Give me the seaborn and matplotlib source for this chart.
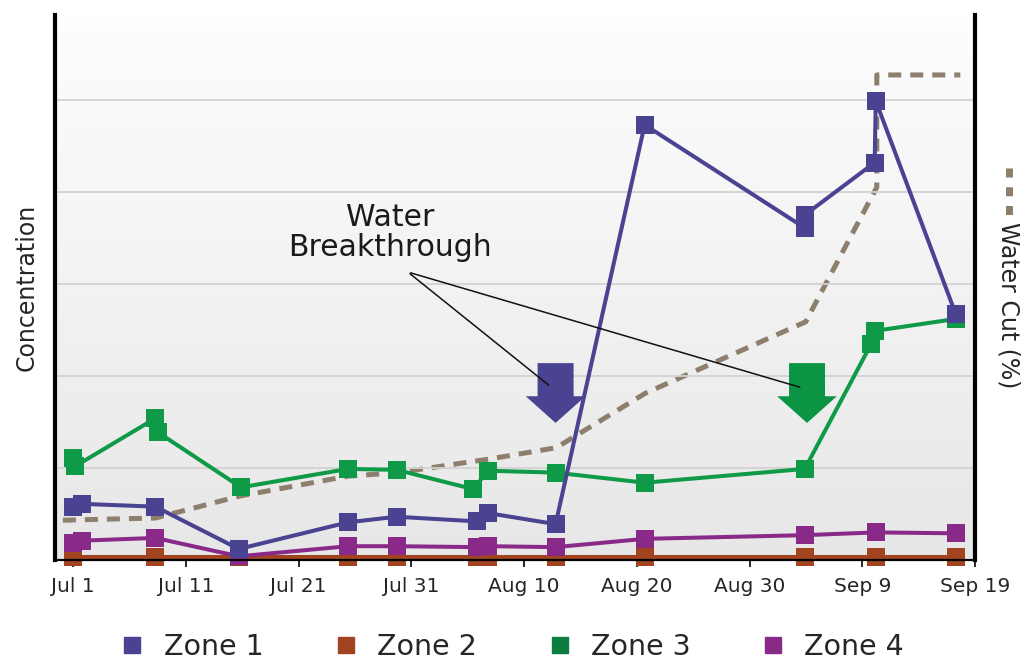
import numpy as np
import pandas as pd
import matplotlib
matplotlib.use("Agg")
import matplotlib.pyplot as plt
import seaborn as sns
from matplotlib.lines import Line2D
from matplotlib.patches import FancyArrow

# ---------------- data ----------------
tick_days = [0, 10, 20, 30, 40, 50, 60, 70, 80]
tick_labels = ["Jul 1", "Jul 11", "Jul 21", "Jul 31", "Aug 10", "Aug 20", "Aug 30", "Sep 9", "Sep 19"]

# days after Jul 1
zone1_day = [0, 0.8, 7.3, 14.7, 24.4, 28.7, 35.8, 36.8, 42.8, 50.7, 64.9, 64.9, 71.1, 71.2, 78.3]
zone1_val = [0.58, 0.61, 0.58, 0.12, 0.41, 0.47, 0.42, 0.51, 0.39, 4.73, 3.61, 3.75, 4.32, 4.99, 2.67]

zone2_day = [0, 7.3, 14.7, 24.4, 28.7, 35.8, 36.8, 42.8, 50.7, 64.9, 71.2, 78.3]
zone2_val = [0.03, 0.03, 0.03, 0.03, 0.03, 0.03, 0.03, 0.03, 0.03, 0.03, 0.03, 0.03]

zone3_day = [0, 0.2, 7.3, 7.5, 14.9, 24.4, 28.7, 35.5, 36.8, 42.8, 50.7, 64.9, 70.8, 71.1, 78.3]
zone3_val = [1.11, 1.02, 1.54, 1.39, 0.79, 0.99, 0.98, 0.77, 0.97, 0.95, 0.84, 0.99, 2.35, 2.49, 2.62]

zone4_day = [0, 0.8, 7.3, 14.7, 24.4, 28.7, 35.8, 36.8, 42.8, 50.7, 64.9, 71.2, 78.3]
zone4_val = [0.18, 0.21, 0.24, 0.04, 0.15, 0.15, 0.14, 0.15, 0.14, 0.23, 0.27, 0.30, 0.29]

water_day = [-0.9, 7.3, 14.7, 24.4, 28.7, 35.8, 36.8, 42.8, 50.7, 64.9, 71.2, 71.2, 78.6]
water_cut = [7.3, 7.7, 11.7, 15.4, 16.0, 18.2, 18.5, 20.6, 30.6, 43.7, 68.4, 89.0, 89.0]

zone_names = ["Zone 1", "Zone 2", "Zone 3", "Zone 4"]
zone_colors = ["#4A4392", "#A1441F", "#0F9A48", "#8A2A88"]
legend_colors = ["#4A4392", "#A1441F", "#0B7D3E", "#8A2A88"]
water_color = "#8E7F6D"

# ---------------- figure ----------------
sns.set_style("white")
plt.rcParams["font.family"] = ["DejaVu Sans"]

fig = plt.figure(figsize=(10.25, 6.6), dpi=100)
pos = [55 / 1025, 100 / 660, 920 / 1025, 545 / 660]

# gradient background
bg = fig.add_axes(pos, zorder=0)
grad = np.linspace(0, 1, 256).reshape(-1, 1)
top_c = np.array([0.995, 0.995, 0.995])
bot_c = np.array([0.905, 0.905, 0.905])
img = top_c[None, None, :] * (1 - grad[..., None]) + bot_c[None, None, :] * grad[..., None]
bg.imshow(img, aspect="auto", extent=[0, 1, 0, 1])
bg.set_axis_off()

ax2 = fig.add_axes(pos, zorder=1)
ax = fig.add_axes(pos, zorder=2)
for a in (ax, ax2):
    a.patch.set_visible(False)

# water cut on secondary scale
wdf = pd.DataFrame({"day": water_day, "cut": water_cut})
sns.lineplot(data=wdf, x="day", y="cut", ax=ax2, color=water_color, lw=3.6,
             sort=False, estimator=None)
ax2.lines[0].set_dashes((2.6, 1.8))
ax2.set_xlim(-1.6, 79.9)
ax2.set_ylim(0, 100)
ax2.set_axis_off()

# zones
series = [(zone2_day, zone2_val, 1), (zone4_day, zone4_val, 3),
          (zone3_day, zone3_val, 2), (zone1_day, zone1_val, 0)]
for d, v, i in series:
    df = pd.DataFrame({"day": d, "val": v})
    sns.lineplot(data=df, x="day", y="val", ax=ax, color=zone_colors[i], lw=2.9,
                 marker="s", markersize=12.5, markeredgewidth=0,
                 sort=False, estimator=None, clip_on=False)

ax.set_xlim(-1.6, 79.9)
ax.set_ylim(0, 545 / 92)
ax.set_yticks([1, 2, 3, 4, 5])
ax.yaxis.grid(True, color="#d2d2d2", lw=1.3)
ax.set_axisbelow(True)
ax.tick_params(axis="y", left=False, labelleft=False)
ax.set_xticks(tick_days)
ax.set_xticklabels(tick_labels)
ax.tick_params(axis="x", direction="out", length=5, width=1.2, color="black",
               labelsize=14.5, pad=7, bottom=True)
ax.set_xlabel("")
ax.set_ylabel("Concentration", fontsize=17, labelpad=12)
for s in ("left", "right"):
    ax.spines[s].set_visible(True)
    ax.spines[s].set_color("black")
    ax.spines[s].set_linewidth(3)
ax.spines["bottom"].set_color("black")
ax.spines["bottom"].set_linewidth(1.6)
ax.spines["top"].set_visible(False)

# breakthrough arrows
arrow_specs = [(42.8, zone_colors[0]), (65.1, "#0B9444")]
for cx, col in arrow_specs:
    ax.add_patch(FancyArrow(cx, 2.14, 0, -0.65, width=3.19, head_width=5.3,
                            head_length=0.29, length_includes_head=True,
                            color=col, lw=0, zorder=2.5))

ax.text(28.1, 3.56, "Water\nBreakthrough", ha="center", va="center",
        fontsize=21.5, color="#1a1a1a", linespacing=1.05)
for ex, ey in [(42.4, 1.88), (64.7, 1.87)]:
    ax.annotate("", xy=(ex, ey), xytext=(29.7, 3.13),
                arrowprops=dict(arrowstyle="-", color="#111111", lw=1.1))

# right label with dashed sample
fig.text(0.984, 1 - 305 / 660, "Water Cut (%)", rotation=-90, ha="center",
         va="center", fontsize=17)
fig.add_artist(Line2D([0.984, 0.984], [1 - 168 / 660, 1 - 216 / 660],
                      transform=fig.transFigure, color=water_color, lw=5,
                      dashes=(1.3, 1.4)))

# legend
handles = [Line2D([0], [0], marker="s", ls="none", color=c, markersize=11)
           for c in legend_colors]
fig.legend(handles, zone_names, loc="center", bbox_to_anchor=(0.5, 1 - 647 / 660),
           ncol=4, frameon=False, fontsize=20.5, handlelength=0.8,
           handletextpad=0.7, columnspacing=2.5)

fig.savefig("out.png", dpi=100)
